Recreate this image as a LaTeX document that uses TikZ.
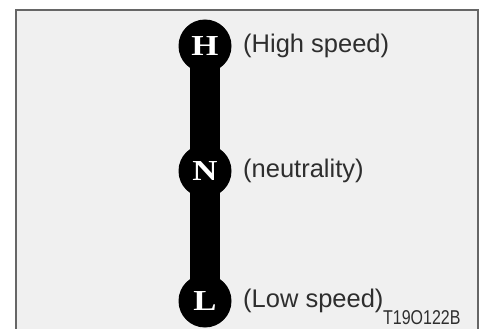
\documentclass[tikz,border=0pt]{standalone}
\usepackage{fontspec}
\setmainfont{Liberation Serif}
\newfontfamily\labelfont{Liberation Sans}
\begin{document}
\begin{tikzpicture}[x=1pt,y=-1pt,
  knob/.style={circle,fill=black,minimum size=53pt,inner sep=0pt},
  letter/.style={inner sep=0pt,text=white,xscale=1.2,font=\bfseries\fontsize{29}{29}\selectfont},
  lbl/.style={anchor=west,inner sep=0pt,text=black!82,font=\labelfont\fontsize{25.5}{25.5}\selectfont},
  bar/.style={line width=30pt,black}]
\useasboundingbox (0,0) rectangle (480,329);
\fill[white] (0,0) rectangle (480,329);
\draw[fill={rgb,255:red,240;green,240;blue,240},draw=black!60,line width=1.3pt] (16,10) rectangle (478,345);
\coordinate (cH) at (205,46);
\coordinate (cN) at (205,171);
\coordinate (cL) at (205,301);
\draw[bar] (cH) -- (cL);
\node[knob] (H) at (cH) {};
\node[knob] (N) at (cN) {};
\node[knob] (L) at (cL) {};
\node[letter] (lH) at (H.center) {H};
\node[letter] (lN) at (N.center) {N};
\node[letter] (lL) at (L.center) {L};
\node[lbl] (tH) at (243,46) {(High speed)};
\node[lbl] (tN) at (243,171) {(neutrality)};
\node[lbl] (tL) at (243,301) {(Low speed)};
\node[anchor=west,inner sep=0pt,text=black!82,font=\labelfont\fontsize{20}{20}\selectfont,xscale=0.8] (code) at (383,318) {T19O122B};
\end{tikzpicture}
\end{document}
